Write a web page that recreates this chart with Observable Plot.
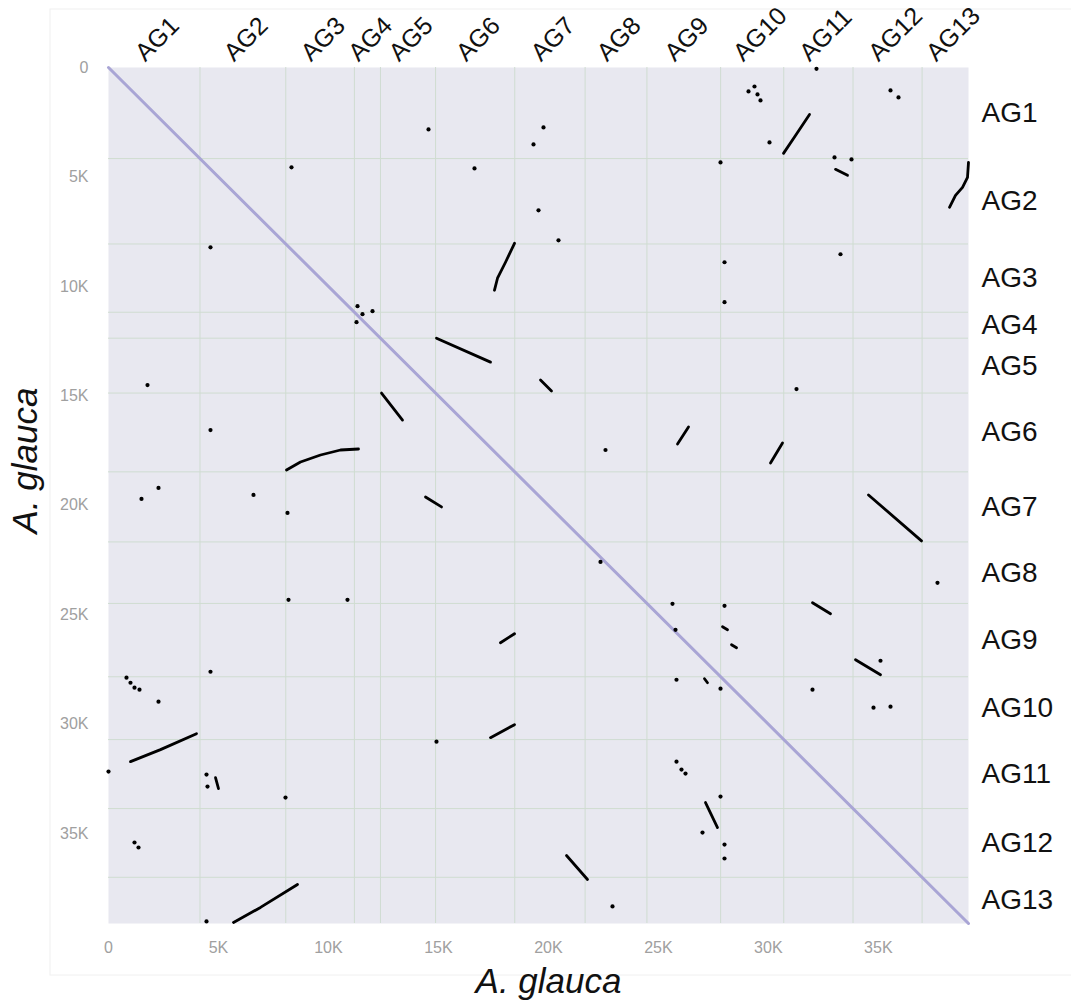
<!DOCTYPE html>
<html>
<head>
<meta charset="utf-8">
<script src="https://cdn.jsdelivr.net/npm/d3@7"></script>
<script src="https://cdn.jsdelivr.net/npm/@observablehq/plot@0.6"></script>
<style>
  html, body { margin: 0; padding: 0; background: #fff; }
  #chart { width: 1071px; height: 1006px; }
  svg { font-family: "Liberation Sans", Arial, sans-serif; }
</style>
</head>
<body>
<div id="chart"></div>
<script>
// Chromosome names and cumulative end positions (gene order index)
const chromNames = ["AG1","AG2","AG3","AG4","AG5","AG6","AG7","AG8","AG9","AG10","AG11","AG12","AG13"];
const chromEnds  = [4160, 8060, 11180, 12365, 14870, 18470, 21670, 24480, 27830, 30700, 33850, 36990, 39100];
const xTicks = [0, 5000, 10000, 15000, 20000, 25000, 30000, 35000];
const yTicks = [0, 5000, 10000, 15000, 20000, 25000, 30000, 35000];

// Isolated syntenic gene pairs [x gene, y gene]
const dots = [
  [14549, 2828], [19323, 3513], [19777, 2737], [8320, 4562], [16640, 4608],
  [30052, 3422], [27825, 4334], [33008, 4106], [33781, 4197], [32189, 60],
  [35554, 1049], [35917, 1369],
  [29370, 867], [29098, 1095], [29507, 1232], [29643, 1505],
  [19550, 6524], [20459, 7892], [4637, 8212], [28007, 8896], [28007, 10721],
  [33280, 8531],
  [11321, 10903], [11548, 11268], [12003, 11131], [11276, 11633],
  [31280, 14690], [1773, 14507], [4637, 16560], [22596, 17472],
  [1500, 19708], [2273, 19206], [6592, 19525], [8138, 20346],
  [37690, 23540], [22369, 22582],
  [8184, 24315], [10866, 24315], [25642, 24497], [28007, 24589], [25779, 25684],
  [35099, 27098], [32007, 28421], [27825, 28375], [4637, 27600], [25824, 27965],
  [34781, 29242], [35554, 29197], [2273, 28968],
  [818, 27873], [1000, 28102], [1182, 28330], [1409, 28421],
  [0, 32162], [8047, 33348], [14912, 30794], [27825, 33302], [27006, 34945],
  [1182, 35401], [1364, 35629], [28007, 35493], [28007, 36131], [22914, 38321],
  [4456, 32299], [4501, 32846], [4456, 39005],
  [25824, 31706], [26051, 32071], [26233, 32253]
];

// Collinear blocks, each a run of [x gene, y gene] vertices
const blocks = [
  [[30689, 3923], [31235, 3102], [31872, 2144]],
  [[39100, 4334], [39055, 5018], [38828, 5474], [38509, 5839], [38236, 6387]],
  [[33053, 4653], [33599, 4927]],
  [[18459, 8029], [18050, 8896], [17686, 9626], [17549, 10173]],
  [[14912, 12363], [17368, 13458]],
  [[19641, 14279], [20141, 14781]],
  [[12412, 14872], [13367, 16104]],
  [[8093, 18385], [8729, 18020], [9639, 17700], [10548, 17472], [11366, 17427]],
  [[25870, 17199], [26370, 16423]],
  [[30098, 18065], [30644, 17153]],
  [[14412, 19616], [15140, 20072]],
  [[34554, 19525], [36963, 21624]],
  [[32007, 24452], [32826, 24954]],
  [[27916, 25547], [28143, 25684]],
  [[28325, 26368], [28553, 26505]],
  [[18459, 25867], [17822, 26277]],
  [[27097, 27919], [27234, 28102]],
  [[33962, 27053], [35099, 27737]],
  [[1000, 31706], [2364, 31158], [4001, 30429]],
  [[17368, 30611], [18459, 30018]],
  [[4865, 32436], [5001, 32938]],
  [[27143, 33576], [27688, 34717]],
  [[20823, 35994], [21778, 37089]],
  [[5683, 39051], [6911, 38366], [8593, 37318]]
];

const total = chromEnds[chromEnds.length - 1];
const starts = [0, ...chromEnds.slice(0, -1)];
const chroms = chromNames.map((name, i) => ({name, mid: (starts[i] + chromEnds[i]) / 2}));
const bounds = chromEnds.slice(0, -1);
const blockRows = blocks.flatMap((pts, i) => pts.map(([x, y]) => ({block: i, x, y})));
const fmt = d => d === 0 ? "0" : `${d / 1000}K`;

const chart = Plot.plot({
  width: 1071,
  height: 1006,
  marginLeft: 108,
  marginRight: 103,
  marginTop: 67,
  marginBottom: 83,
  style: {fontFamily: "Liberation Sans, Arial, sans-serif", background: "white"},
  x: {domain: [0, total]},
  y: {domain: [0, total], reverse: true},
  marks: [
    Plot.frame({fill: "#e8e8f0", stroke: null}),
    Plot.ruleX(bounds, {stroke: "#cfdcd1", strokeWidth: 1}),
    Plot.ruleY(bounds, {stroke: "#cfdcd1", strokeWidth: 1}),
    Plot.line([[0, 0], [total, total]], {stroke: "#a9a5d5", strokeWidth: 3}),
    Plot.line(blockRows, {x: "x", y: "y", z: "block", stroke: "#000", strokeWidth: 2.8, strokeLinecap: "round"}),
    Plot.dot(dots, {x: d => d[0], y: d => d[1], r: 2.1, fill: "#000", stroke: null}),
    Plot.axisX({ticks: xTicks, tickFormat: fmt, tickSize: 0, tickPadding: 18, fontSize: 16, fill: "#a0a0a0", anchor: "bottom", label: null}),
    Plot.axisY({ticks: yTicks, tickFormat: fmt, tickSize: 0, tickPadding: 20, fontSize: 16, fill: "#a0a0a0", anchor: "left", label: null}),
    Plot.text(chroms, {x: "mid", text: "name", frameAnchor: "top", rotate: -45, textAnchor: "start", lineAnchor: "bottom", dx: -9, dy: -5, fontSize: 25, fill: "#111"}),
    Plot.text(chroms, {y: "mid", text: "name", frameAnchor: "right", textAnchor: "start", dx: 13, fontSize: 28, fill: "#111"}),
    Plot.text(["A. glauca"], {frameAnchor: "bottom", textAnchor: "middle", lineAnchor: "bottom", dx: 10, dy: 69, fontSize: 35, fontStyle: "italic", fill: "#111"}),
    Plot.text(["A. glauca"], {frameAnchor: "left", textAnchor: "middle", rotate: -90, lineAnchor: "top", dx: -96, dy: -35, fontSize: 35, fontStyle: "italic", fill: "#111"})
  ]
});

// faint outer figure border
d3.select(chart).insert("rect", ":first-child")
  .attr("x", 50).attr("y", 9).attr("width", 1040).attr("height", 966)
  .attr("fill", "none").attr("stroke", "#f0f0f0");

document.getElementById("chart").append(chart);
</script>
</body>
</html>
